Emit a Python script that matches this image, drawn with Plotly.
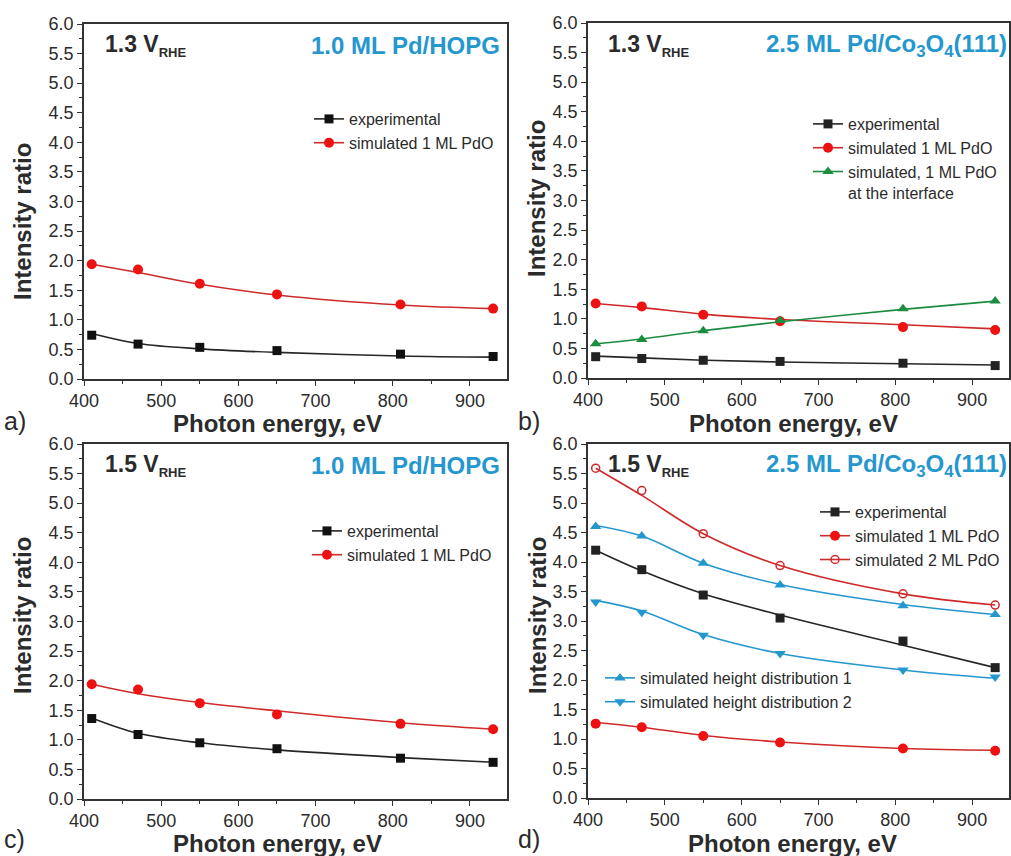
import plotly.graph_objects as go

# ---------------- data ----------------
energy = [410, 470, 550, 650, 810, 930]

# measured / simulated points
# a) 1.3 V_RHE, 1.0 ML Pd/HOPG
a_exp = [0.74, 0.59, 0.535, 0.48, 0.42, 0.38]
a_sim1 = [1.94, 1.85, 1.61, 1.43, 1.26, 1.19]
# b) 1.3 V_RHE, 2.5 ML Pd/Co3O4(111)
b_exp = [0.36, 0.33, 0.30, 0.28, 0.25, 0.21]
b_sim1 = [1.26, 1.21, 1.07, 0.96, 0.86, 0.81]
b_iface = [0.58, 0.65, 0.80, 0.97, 1.17, 1.30]
# c) 1.5 V_RHE, 1.0 ML Pd/HOPG
c_exp = [1.36, 1.09, 0.95, 0.85, 0.69, 0.62]
c_sim1 = [1.94, 1.85, 1.62, 1.43, 1.27, 1.18]
# d) 1.5 V_RHE, 2.5 ML Pd/Co3O4(111)
d_exp = [4.20, 3.87, 3.44, 3.05, 2.66, 2.21]
d_sim1 = [1.26, 1.20, 1.05, 0.94, 0.84, 0.80]
d_sim2 = [5.59, 5.21, 4.48, 3.94, 3.46, 3.27]
d_hd1 = [4.60, 4.44, 3.98, 3.61, 3.26, 3.11]
d_hd2 = [3.32, 3.15, 2.76, 2.45, 2.17, 2.05]

# smoothed guide curves, value at each photon energy
a_exp_fit = [0.77, 0.60, 0.51, 0.45, 0.39, 0.37]
a_sim1_fit = [1.94, 1.80, 1.60, 1.42, 1.25, 1.19]
b_exp_fit = [0.37, 0.34, 0.30, 0.27, 0.24, 0.22]
b_sim1_fit = [1.26, 1.19, 1.08, 0.99, 0.90, 0.83]
b_iface_fit = [0.58, 0.66, 0.80, 0.95, 1.16, 1.30]
c_exp_fit = [1.37, 1.11, 0.95, 0.83, 0.70, 0.62]
c_sim1_fit = [1.94, 1.78, 1.63, 1.49, 1.29, 1.18]
d_exp_fit = [4.20, 3.85, 3.46, 3.10, 2.59, 2.21]
d_sim1_fit = [1.28, 1.20, 1.06, 0.95, 0.84, 0.81]
d_sim2_fit = [5.59, 5.13, 4.48, 3.94, 3.46, 3.27]
d_hd1_fit = [4.62, 4.44, 3.98, 3.62, 3.28, 3.11]
d_hd2_fit = [3.35, 3.17, 2.77, 2.45, 2.17, 2.03]

x_ticks = [400, 500, 600, 700, 800, 900]
y_ticks = [0.0, 0.5, 1.0, 1.5, 2.0, 2.5, 3.0, 3.5, 4.0, 4.5, 5.0, 5.5, 6.0]

# ---------------- layout helpers ----------------
W, H = 1011, 856
FONT = "Liberation Sans, Arial, sans-serif"
DARK = "#2b2b2b"
BLACK_LINE = "#262626"
RED_LINE = "#cf2a2a"
RED_MARK = "#ee1111"
BLUE = "#2597cf"
GREEN = "#1c8c3f"


def px(xp):
    return xp / W


def py(yp):
    return 1 - yp / H


fig = go.Figure()

panels = {
    # name: (xaxis id, yaxis id, x px range, y px range)
    "a": ("x", "y", (84, 507), (24, 379)),
    "b": ("x2", "y2", (588, 1009), (23, 378)),
    "c": ("x3", "y3", (84, 507), (444, 799)),
    "d": ("x4", "y4", (588, 1009), (444, 798)),
}


def add_series(panel, y, y_fit, name, color_line, color_mark, symbol, size, legend,
               open_marker=False):
    xa, ya, _, _ = panels[panel]
    if open_marker:
        marker = dict(symbol=symbol, size=size, color=color_mark,
                      line=dict(color=color_mark, width=1.5))
    else:
        marker = dict(symbol=symbol, size=size, color=color_mark)
    line = dict(color=color_line, width=1.6, shape="spline", smoothing=1.0)
    # guide curve
    fig.add_trace(go.Scatter(
        x=energy, y=y_fit, mode="lines", line=line, showlegend=False,
        hoverinfo="skip", xaxis=xa, yaxis=ya, legend=legend,
    ))
    # data points
    fig.add_trace(go.Scatter(
        x=energy, y=y, mode="markers", marker=marker, showlegend=False,
        name=name, xaxis=xa, yaxis=ya, legend=legend,
    ))
    # legend key (line + symbol)
    fig.add_trace(go.Scatter(
        x=[None], y=[None], mode="lines+markers", name=name, line=line, marker=marker,
        xaxis=xa, yaxis=ya, legend=legend,
    ))


add_series("a", a_exp, a_exp_fit, "experimental", BLACK_LINE, "#111111", "square", 9, "legend")
add_series("a", a_sim1, a_sim1_fit, "simulated 1 ML PdO", RED_LINE, RED_MARK, "circle", 10, "legend")

add_series("b", b_exp, b_exp_fit, "experimental", BLACK_LINE, "#222222", "square", 9, "legend2")
add_series("b", b_sim1, b_sim1_fit, "simulated 1 ML PdO", RED_LINE, RED_MARK, "circle", 10, "legend2")
add_series("b", b_iface, b_iface_fit, "simulated, 1 ML PdO<br>at the interface", GREEN, GREEN,
           "triangle-up", 10, "legend2")

add_series("c", c_exp, c_exp_fit, "experimental", BLACK_LINE, "#111111", "square", 9, "legend3")
add_series("c", c_sim1, c_sim1_fit, "simulated 1 ML PdO", RED_LINE, RED_MARK, "circle", 10, "legend3")

add_series("d", d_exp, d_exp_fit, "experimental", BLACK_LINE, "#222222", "square", 9, "legend4")
add_series("d", d_sim1, d_sim1_fit, "simulated 1 ML PdO", RED_LINE, RED_MARK, "circle", 10, "legend4")
add_series("d", d_sim2, d_sim2_fit, "simulated 2 ML PdO", RED_LINE, RED_LINE, "circle-open", 8,
           "legend4", open_marker=True)
add_series("d", d_hd1, d_hd1_fit, "simulated height distribution 1", BLUE, BLUE,
           "triangle-up", 10, "legend5")
add_series("d", d_hd2, d_hd2_fit, "simulated height distribution 2", BLUE, BLUE,
           "triangle-down", 10, "legend5")

axis_common = dict(
    showline=True, linecolor="#333333", linewidth=1.5, mirror=True,
    ticks="outside", ticklen=5, tickwidth=1.3, tickcolor="#333333",
    showgrid=False, zeroline=False, automargin=False,
    tickfont=dict(family=FONT, size=18, color=DARK),
)

layout = dict(
    width=W, height=H, margin=dict(l=0, r=0, t=0, b=0, pad=0, autoexpand=False),
    paper_bgcolor="white", plot_bgcolor="white",
    font=dict(family=FONT, color=DARK),
)

for key, (xa, ya, (x0, x1), (y0, y1)) in panels.items():
    xname = "xaxis" + xa[1:]
    yname = "yaxis" + ya[1:]
    layout[xname] = dict(
        axis_common, domain=[px(x0), px(x1)], range=[400, 948],
        tickvals=x_ticks, anchor=ya,
        minor=dict(ticks="outside", ticklen=3, dtick=50, tick0=400, tickcolor="#333333"),
    )
    layout[yname] = dict(
        axis_common, domain=[py(y1), py(y0)], range=[0, 6.0],
        tickvals=y_ticks, ticktext=[f"{v:.1f}" for v in y_ticks], anchor=xa,
        minor=dict(ticks="outside", ticklen=3, dtick=0.25, tick0=0, tickcolor="#333333"),
    )

legend_style = dict(
    xref="paper", yref="paper", xanchor="left", yanchor="top",
    bgcolor="rgba(0,0,0,0)", borderwidth=0,
    font=dict(family=FONT, size=16, color=DARK),
    tracegroupgap=0, itemwidth=30,
)
legend_pos = {
    "legend": (309, 102),
    "legend2": (808, 107),
    "legend3": (307, 514),
    "legend4": (815, 495),
    "legend5": (600, 661),
}
for lg, (lx, ly) in legend_pos.items():
    layout[lg] = dict(legend_style, x=px(lx), y=py(ly), valign="top")

fig.update_layout(**layout)

annotations = []


def text(x, y, s, size, color=DARK, bold=False, xanchor="left", angle=0):
    annotations.append(dict(
        x=px(x), y=py(y), xref="paper", yref="paper", text=s, showarrow=False,
        xanchor=xanchor, yanchor="middle", textangle=angle,
        font=dict(family=FONT, size=size, color=color, weight="bold" if bold else "normal"),
    ))


RHE = "<sub><span style='font-size:13px'>RHE</span></sub>"

# panel titles
text(103, 45, "1.3 V" + RHE, 23, bold=True)
text(502, 45, "1.0 ML Pd/HOPG", 24, color=BLUE, bold=True, xanchor="right")
text(606, 45, "1.3 V" + RHE, 23, bold=True)
text(1009, 45, "2.5 ML Pd/Co<sub>3</sub>O<sub>4</sub>(111)", 24, color=BLUE, bold=True, xanchor="right")
text(103, 465, "1.5 V" + RHE, 23, bold=True)
text(502, 465, "1.0 ML Pd/HOPG", 24, color=BLUE, bold=True, xanchor="right")
text(606, 465, "1.5 V" + RHE, 23, bold=True)
text(1009, 465, "2.5 ML Pd/Co<sub>3</sub>O<sub>4</sub>(111)", 24, color=BLUE, bold=True, xanchor="right")

# axis titles
for xc, yc in [(277, 424), (793, 423), (277, 843), (792, 843)]:
    text(xc, yc, "Photon energy, eV", 24, bold=True, xanchor="center")
for xc, yc in [(22, 222), (537, 199), (22, 616), (537, 616)]:
    text(xc, yc, "Intensity ratio", 24, bold=True, xanchor="center", angle=-90)

# panel letters
text(2, 421, "a)", 25)
text(516, 421, "b)", 25)
text(2, 839, "c)", 25)
text(516, 839, "d)", 25)

fig.update_layout(annotations=annotations)

fig.write_html("out.html")
